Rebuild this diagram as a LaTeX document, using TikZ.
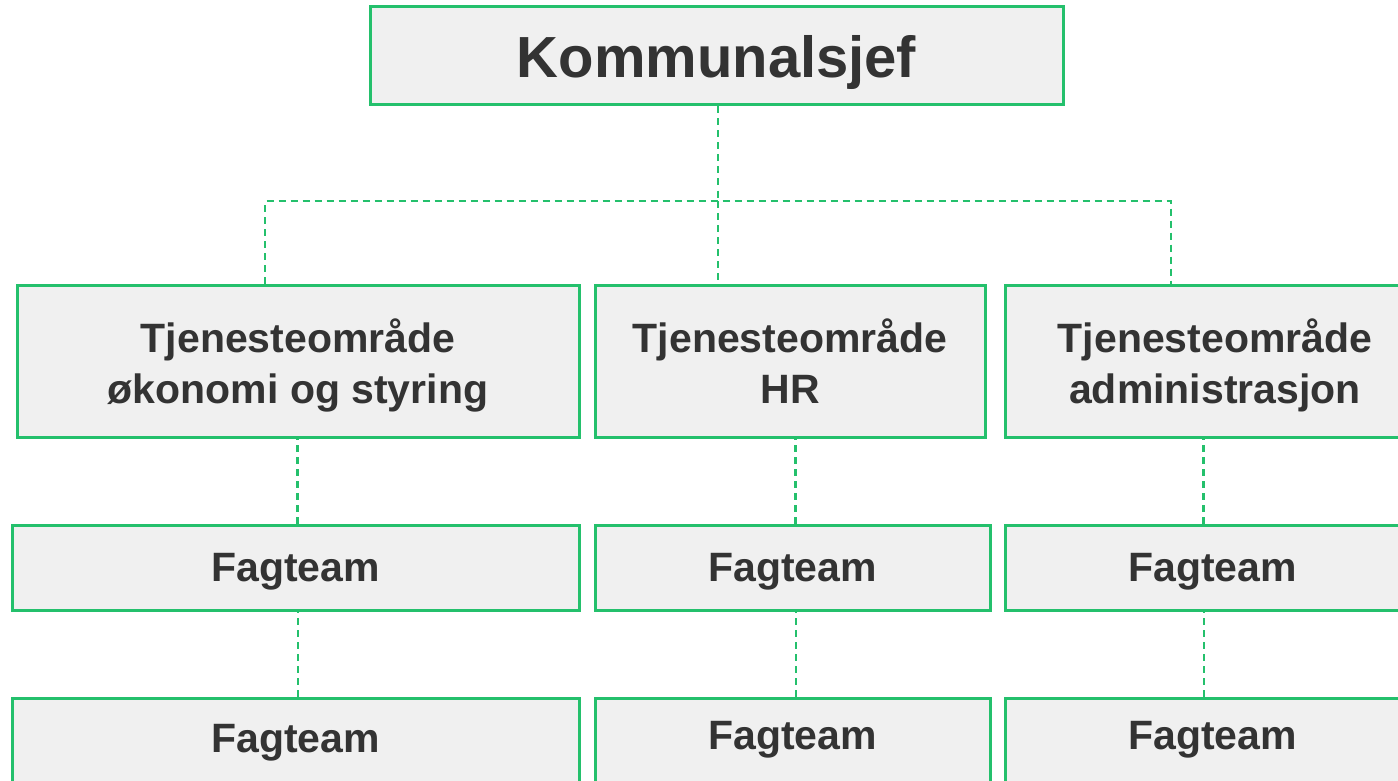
\documentclass[tikz,border=0pt]{standalone}
\usepackage{fontspec}
\setmainfont{Liberation Sans}
\definecolor{grn}{RGB}{36,192,108}
\definecolor{boxfill}{RGB}{240,240,240}
\definecolor{txt}{RGB}{51,51,51}
\begin{document}
\begin{tikzpicture}[x=1pt,y=-1pt,
  box/.style={draw=grn, line width=3pt, fill=boxfill, text=txt,
    font=\bfseries\fontsize{41}{51}\selectfont, align=center, inner sep=0pt, text depth=0pt},
  conn/.style={draw=grn, line width=2.4pt, dash pattern=on 7pt off 5pt}]
\useasboundingbox (0,0) rectangle (1398,781);
\clip (0,0) rectangle (1398,781);
\fill[white] (0,0) rectangle (1398,781);

% top
\node[box, font=\bfseries\fontsize{58}{70}\selectfont, minimum width=693pt, minimum height=98pt] (K) at (716.5,56) {Kommunalsjef};

% row 2
\node[box, minimum width=562pt, minimum height=152pt] (A) at (298,361) {Tjenesteområde\\økonomi og styring};
\node[box, minimum width=390pt, minimum height=152pt] (B) at (790,361) {Tjenesteområde\\HR};
\node[box, minimum width=420pt, minimum height=152pt] (C) at (1215,361) {Tjenesteområde\\administrasjon};

% row 3
\node[box, minimum width=567pt, minimum height=85pt] (a3) at (295.5,567.5) {Fagteam};
\node[box, minimum width=395pt, minimum height=85pt] (b3) at (792.5,567.5) {Fagteam};
\node[box, minimum width=415pt, minimum height=85pt] (c3) at (1212.5,567.5) {Fagteam};

% row 4 (cut off by the page bottom)
\node[box, minimum width=567pt, minimum height=120pt, text depth=40pt] (a4) at (295.5,758) {Fagteam};
\node[box, minimum width=395pt, minimum height=120pt, text depth=46pt] (b4) at (792.5,758) {Fagteam};
\node[box, minimum width=415pt, minimum height=120pt, text depth=46pt] (c4) at (1212.5,758) {Fagteam};

% connectors
\coordinate (jK) at (718,201);
\coordinate (aB) at (265,201);
\coordinate (cB) at (1171,201);
\draw[conn] (K.south -| jK) -- (jK);
\draw[conn] (A.north -| aB) -- (aB) -- (cB) -- (C.north -| cB);
\draw[conn] (jK) -- (B.north -| jK);

\draw[conn] ([xshift=2pt]a3.north) -- ([xshift=2pt]a3.north |- A.south);
\draw[conn] ([xshift=3pt]b3.north) -- ([xshift=3pt]b3.north |- B.south);
\draw[conn] ([xshift=-9pt]c3.north) -- ([xshift=-9pt]c3.north |- C.south);

\draw[conn] ([xshift=2.5pt]a4.north) -- ([xshift=2.5pt]a4.north |- a3.south);
\draw[conn] ([xshift=3.5pt]b4.north) -- ([xshift=3.5pt]b4.north |- b3.south);
\draw[conn] ([xshift=-8.5pt]c4.north) -- ([xshift=-8.5pt]c4.north |- c3.south);
\end{tikzpicture}
\end{document}
